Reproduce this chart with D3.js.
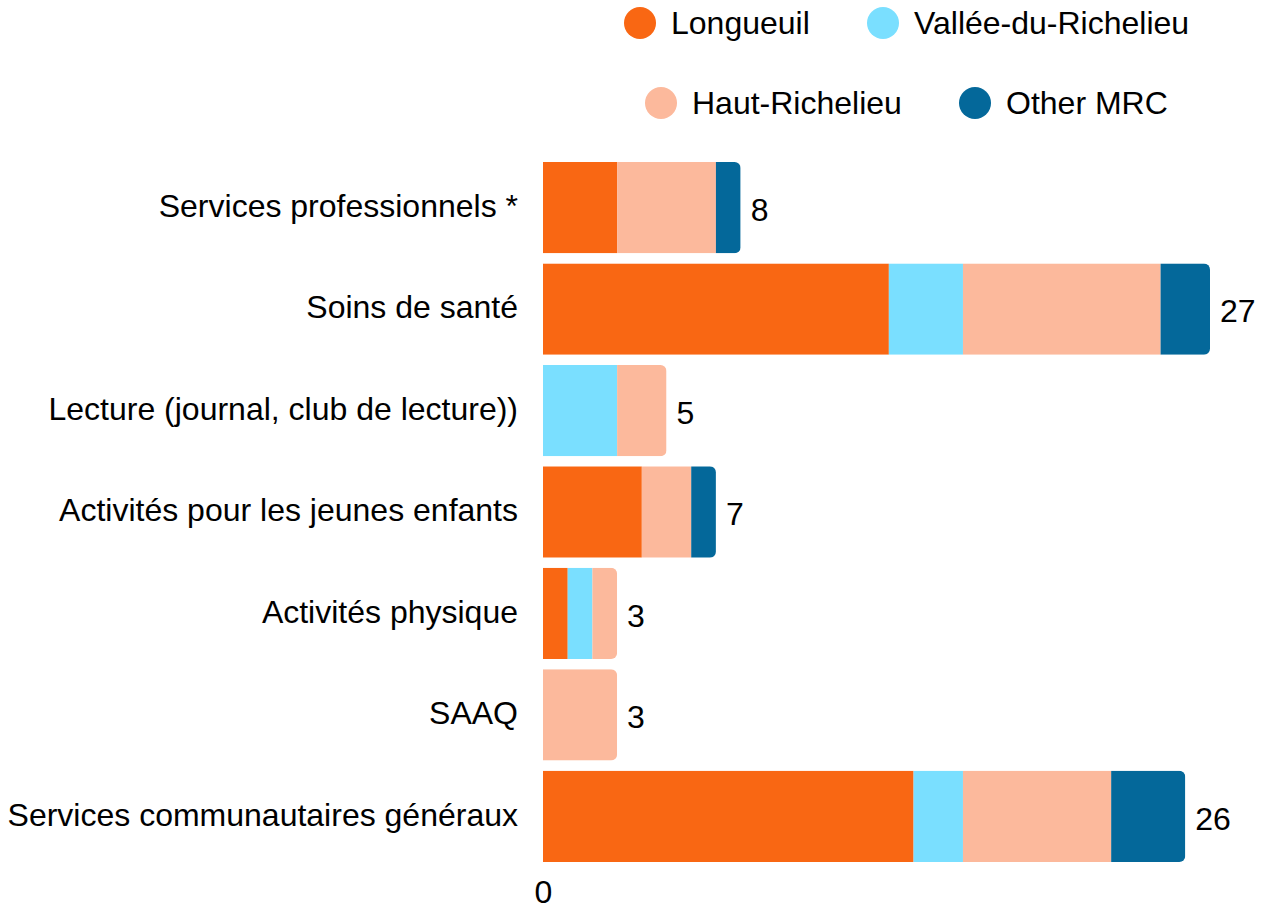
<!DOCTYPE html>
<html>
<head>
<meta charset="utf-8">
<script src="https://cdn.jsdelivr.net/npm/d3@7"></script>
<style>
  body { margin: 0; background: #fff; }
  text { font-family: "Liberation Sans", Arial, sans-serif; fill: #000; }
</style>
</head>
<body>
<svg id="chart" width="1267" height="907"></svg>
<script>
// data
var categories = ["Services professionnels *", "Soins de santé", "Lecture (journal, club de lecture))",
  "Activités pour les jeunes enfants", "Activités physique", "SAAQ", "Services communautaires généraux"];
var seriesNames = ["Longueuil", "Vallée-du-Richelieu", "Haut-Richelieu", "Other MRC"];
var longueuil = [3, 14, 0, 4, 1, 0, 15];
var vallee    = [0, 3, 3, 0, 1, 0, 2];
var haut      = [4, 8, 2, 2, 1, 3, 6];
var other     = [1, 2, 0, 1, 0, 0, 3];
var xTicks = [0];

var colors = ["#f96713", "#7adfff", "#fcb99c", "#04689a"];
var fontSize = 32;

var rows = categories.map(function(c, i) {
  return { cat: c, Longueuil: longueuil[i], "Vallée-du-Richelieu": vallee[i],
           "Haut-Richelieu": haut[i], "Other MRC": other[i] };
});

var svg = d3.select("#chart");

var x = d3.scaleLinear().domain([0, 27]).range([543, 1210]);
var y = d3.scaleBand().domain(categories).range([162, 862]).paddingInner(0.1);
var color = d3.scaleOrdinal().domain(seriesNames).range(colors);

var stack = d3.stack().keys(seriesNames);
var layers = stack(rows);

// clip each bar so only the right end is rounded
var defs = svg.append("defs");
rows.forEach(function(r, i) {
  var total = d3.sum(seriesNames, function(k) { return r[k]; });
  defs.append("clipPath").attr("id", "clip" + i)
    .append("rect")
    .attr("x", x(0) - 10)
    .attr("y", y(r.cat))
    .attr("width", x(total) - x(0) + 10)
    .attr("height", y.bandwidth())
    .attr("rx", 6);
});

var bars = svg.append("g");
layers.forEach(function(layer) {
  bars.append("g")
    .selectAll("rect")
    .data(layer)
    .enter()
    .append("rect")
    .attr("clip-path", function(d, i) { return "url(#clip" + i + ")"; })
    .attr("x", function(d) { return x(d[0]); })
    .attr("y", function(d) { return y(d.data.cat); })
    .attr("width", function(d) { return Math.max(0, x(d[1]) - x(d[0])); })
    .attr("height", y.bandwidth())
    .attr("fill", color(layer.key));
});

// totals
svg.append("g").selectAll("text")
  .data(rows)
  .enter()
  .append("text")
  .attr("x", function(d) { return x(d3.sum(seriesNames, function(k) { return d[k]; })) + 10; })
  .attr("y", function(d) { return y(d.cat) + y.bandwidth() / 2 + 2; })
  .attr("dy", "0.35em")
  .attr("font-size", fontSize)
  .text(function(d) { return d3.sum(seriesNames, function(k) { return d[k]; }); });

// category axis
var yAxis = svg.append("g")
  .attr("transform", "translate(" + x(0) + ",-1)")
  .call(d3.axisLeft(y).tickSize(0).tickPadding(25));
yAxis.select(".domain").remove();
yAxis.selectAll("text").attr("font-size", fontSize).attr("font-family", null).style("fill", "#000");

// value axis (only 0)
var xAxis = svg.append("g")
  .attr("transform", "translate(0,880)")
  .call(d3.axisBottom(x).tickValues(xTicks).tickSize(0).tickPadding(0));
xAxis.select(".domain").remove();
xAxis.selectAll("text").attr("font-size", fontSize).attr("font-family", null).style("fill", "#000");

// legend
var legendPos = [
  { cx: 640, cy: 23 },
  { cx: 883, cy: 23 },
  { cx: 661, cy: 103 },
  { cx: 975, cy: 103 }
];
var legend = svg.selectAll(".legend")
  .data(seriesNames)
  .enter()
  .append("g")
  .attr("class", "legend")
  .attr("transform", function(d, i) { return "translate(" + legendPos[i].cx + "," + legendPos[i].cy + ")"; });

legend.append("circle")
  .attr("r", 16)
  .attr("fill", function(d) { return color(d); });

legend.append("text")
  .attr("x", 31)
  .attr("dy", "0.35em")
  .attr("font-size", fontSize)
  .text(function(d) { return d; });
</script>
</body>
</html>
